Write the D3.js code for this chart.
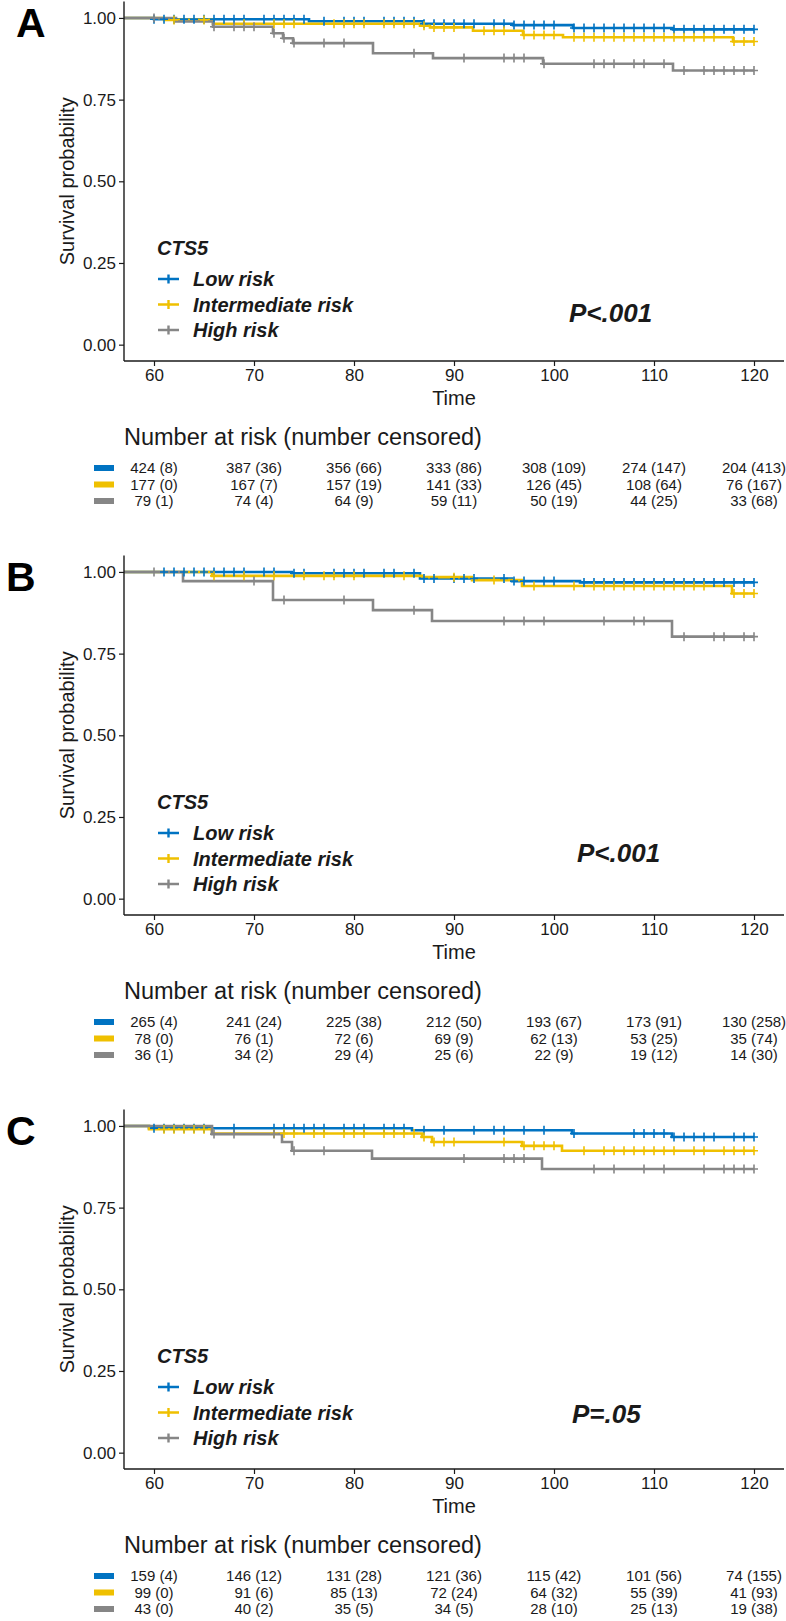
<!DOCTYPE html>
<html><head><meta charset="utf-8">
<script src="https://cdn.jsdelivr.net/npm/d3@7"></script>
<style>body{margin:0;background:#fff;} svg{display:block;} text{font-family:"Liberation Sans",Arial,sans-serif;}</style>
</head><body><svg id="chart" width="786" height="1621"></svg>
<script>
// ---------- DATA ----------
const groups = ["Low risk", "Intermediate risk", "High risk"];
const colors = ["#0073C2", "#EFC000", "#868686"];
const timeTicks = [60, 70, 80, 90, 100, 110, 120];
const survTicks = [0, 0.25, 0.5, 0.75, 1];
const panelLabels = ["A", "B", "C"];
const pTexts = ["P<.001", "P<.001", "P=.05"];
const pTime = [101.5, 102.3, 101.8];
const pSurv = [0.097, 0.14, 0.121];

// step functions: [time, survival from that time]
const A_low_steps = [[57,1],[60,0.996],[75.5,0.99],[86.9,0.982],[95.9,0.978],[101.9,0.969],[111.9,0.965]];
const A_int_steps = [[57,1],[61,0.994],[65.9,0.982],[86.6,0.976],[87.6,0.971],[91.9,0.961],[96.9,0.948],[100.9,0.941],[117.9,0.928]];
const A_high_steps = [[57,1],[62.2,0.989],[65.9,0.973],[71.9,0.953],[72.9,0.938],[73.9,0.923],[81.9,0.892],[87.9,0.877],[98.9,0.860],[111.9,0.839]];
const A_low_cens = [60,61,62,63,64,65,66,67,68,69,71,72,73,74,75,77,79,80,81,83,84,85,86,87,88,89,90,91,92,94,95,96,97,98,99,100,102,103,104,105,106,107,108,109,110,111,112,113,114,115,116,117,118,119,120];
const A_int_cens = [62,65,69,72,73,74,78,79,80,81,83,84,85,86,87,88,89,90,93,94,95,97,98,99,100,102,103,104,105,106,107,108,109,110,111,112,113,114,115,116,118,119,120];
const A_high_cens = [60,66,68,69,70,72,73,74,77,79,86,91,95,96,97,99,104,105,106,108,109,111,113,115,116,117,118,119,120];

const B_low_steps = [[57,1],[73.8,0.996],[86.6,0.980],[95.8,0.972],[102.6,0.968]];
const B_int_steps = [[57,1],[65.8,0.988],[86.8,0.984],[91.8,0.975],[96.8,0.957],[117.8,0.934]];
const B_high_steps = [[57,1],[62.9,0.972],[71.9,0.914],[81.9,0.883],[87.8,0.850],[111.8,0.802]];
const B_low_cens = [61,62,63,64,65,66,67,68,69,71,72,74,75,78,79,80,81,83,84,86,87,88,90,91,92,95,96,97,99,100,103,104,105,106,107,108,109,110,111,112,113,114,115,116,117,118,119,120];
const B_int_cens = [66,69,72,75,77,78,80,85,90,94,98,102,104,105,106,107,108,109,110,111,112,113,114,115,118,119,120];
const B_high_cens = [60,70,73,79,86,95,97,99,105,108,109,113,116,117,119,120];

const C_low_steps = [[57,1],[59.5,0.993],[85.8,0.987],[101.8,0.977],[111.8,0.966]];
const C_int_steps = [[57,1],[59.5,0.99],[65.8,0.977],[86.8,0.966],[87.8,0.951],[96.8,0.939],[100.8,0.924]];
const C_high_steps = [[57,1],[65.8,0.975],[72.8,0.951],[73.8,0.924],[81.8,0.90],[98.8,0.868]];
const C_low_cens = [60,61,62,63,64,65,68,72,73,74,75,76,77,79,80,81,83,84,85,87,89,92,94,95,97,99,102,108,109,110,111,112,113,114,115,116,118,119,120];
const C_int_cens = [61,62,63,64,65,72,73,74,76,77,79,80,81,83,84,85,86,87,88,89,90,95,97,98,99,100,103,105,106,107,108,109,110,111,112,114,115,117,118,119,120];
const C_high_cens = [66,68,72,74,77,91,95,96,97,104,106,109,111,115,117,118,119,120];

// number at risk / number censored at timeTicks
const A_low_risk = [424,387,356,333,308,274,204], A_low_nc = [8,36,66,86,109,147,413];
const A_int_risk = [177,167,157,141,126,108,76], A_int_nc = [0,7,19,33,45,64,167];
const A_high_risk = [79,74,64,59,50,44,33], A_high_nc = [1,4,9,11,19,25,68];
const B_low_risk = [265,241,225,212,193,173,130], B_low_nc = [4,24,38,50,67,91,258];
const B_int_risk = [78,76,72,69,62,53,35], B_int_nc = [0,1,6,9,13,25,74];
const B_high_risk = [36,34,29,25,22,19,14], B_high_nc = [1,2,4,6,9,12,30];
const C_low_risk = [159,146,131,121,115,101,74], C_low_nc = [4,12,28,36,42,56,155];
const C_int_risk = [99,91,85,72,64,55,41], C_int_nc = [0,6,13,24,32,39,93];
const C_high_risk = [43,40,35,34,28,25,19], C_high_nc = [0,2,5,5,10,13,38];

const panels = [
  {steps:[A_low_steps,A_int_steps,A_high_steps], cens:[A_low_cens,A_int_cens,A_high_cens], risk:[A_low_risk,A_int_risk,A_high_risk], nc:[A_low_nc,A_int_nc,A_high_nc]},
  {steps:[B_low_steps,B_int_steps,B_high_steps], cens:[B_low_cens,B_int_cens,B_high_cens], risk:[B_low_risk,B_int_risk,B_high_risk], nc:[B_low_nc,B_int_nc,B_high_nc]},
  {steps:[C_low_steps,C_int_steps,C_high_steps], cens:[C_low_cens,C_int_cens,C_high_cens], risk:[C_low_risk,C_int_risk,C_high_risk], nc:[C_low_nc,C_int_nc,C_high_nc]}
];

// ---------- LAYOUT ----------
const W = 786, H = 1621, PANEL_H = 554;
const svg = d3.select("#chart");
svg.append("rect").attr("width", W).attr("height", H).attr("fill", "#fff");

const x = d3.scaleLinear().domain([57, 123]).range([124, 784]);
const y = d3.scaleLinear().domain([-0.05, 1.05]).range([361, 1.6]);
const tMax = 120;
const ink = "#1a1a1a";

function survAt(steps, t) {
  let s = steps[0][1];
  for (const st of steps) { if (st[0] <= t) s = st[1]; }
  return s;
}

const line = d3.line().x(d => x(d[0])).y(d => y(d[1])).curve(d3.curveStepAfter);

panels.forEach((p, i) => {
  const g = svg.append("g").attr("transform", `translate(0,${i * PANEL_H})`);

  // panel letter
  g.append("text").attr("x", i === 0 ? 16 : 6).attr("y", 37)
    .attr("font-size", 41).attr("font-weight", "bold").attr("fill", "#000").text(panelLabels[i]);

  // clip
  const cid = "clip" + i;
  g.append("clipPath").attr("id", cid).append("rect")
    .attr("x", x(57)).attr("y", y(1.05) - 4).attr("width", x(123) - x(57)).attr("height", y(-0.05) - y(1.05) + 4);

  const plot = g.append("g").attr("clip-path", `url(#${cid})`);
  p.steps.forEach((st, k) => {
    const pts = st.concat([[tMax, st[st.length - 1][1]]]);
    plot.append("path").attr("d", line(pts)).attr("fill", "none")
      .attr("stroke", colors[k]).attr("stroke-width", 2.6);
  });
  p.cens.forEach((cs, k) => {
    plot.selectAll(null).data(cs).enter().append("path")
      .attr("d", t => {
        const cx = x(t), cy = y(survAt(p.steps[k], t));
        return `M${cx - 4},${cy}H${cx + 4}M${cx},${cy - 4.5}V${cy + 4.5}`;
      })
      .attr("stroke", colors[k]).attr("stroke-width", 1.6).attr("fill", "none");
  });

  // axes
  const yAxis = d3.axisLeft(y).tickValues(survTicks).tickFormat(d3.format(".2f")).tickSize(5).tickPadding(3);
  const xAxis = d3.axisBottom(x).tickValues(timeTicks).tickSize(5).tickPadding(3);
  const ya = g.append("g").attr("transform", `translate(${x(57)},0)`).call(yAxis);
  const xa = g.append("g").attr("transform", `translate(0,${y(-0.05)})`).call(xAxis);
  [ya, xa].forEach(a => {
    a.select(".domain").attr("stroke", ink).attr("stroke-width", 1.4);
    a.selectAll(".tick line").attr("stroke", ink).attr("stroke-width", 1.2);
    a.selectAll(".tick text").attr("font-size", 17).attr("fill", ink).attr("font-family", "Liberation Sans, Arial, sans-serif");
  });
  ya.select(".domain").attr("d", `M0,${y(1.05)}V${y(-0.05)}`);
  xa.select(".domain").attr("d", `M${x(57)},0H${x(123)}`);

  // axis titles
  g.append("text").attr("transform", `translate(74,${(y(1.05) + y(-0.05)) / 2}) rotate(-90)`)
    .attr("text-anchor", "middle").attr("font-size", 20).attr("fill", ink).text("Survival probability");
  g.append("text").attr("x", (x(57) + x(123)) / 2).attr("y", 405)
    .attr("text-anchor", "middle").attr("font-size", 20).attr("fill", ink).text("Time");

  // legend
  g.append("text").attr("x", 157).attr("y", 255).attr("font-size", 20)
    .attr("font-weight", "bold").attr("font-style", "italic").attr("fill", ink).text("CTS5");
  groups.forEach((name, k) => {
    const cy = 279 + k * 25.5;
    g.append("path").attr("d", `M158,${cy}H179M168.5,${cy - 4.5}V${cy + 4.5}`)
      .attr("stroke", colors[k]).attr("stroke-width", 2.4).attr("fill", "none");
    g.append("text").attr("x", 193).attr("y", cy + 7).attr("font-size", 20)
      .attr("font-weight", "bold").attr("font-style", "italic").attr("fill", ink).text(name);
  });

  // p value
  g.append("text").attr("x", x(pTime[i])).attr("y", y(pSurv[i]) + 9.5).attr("font-size", 26)
    .attr("font-weight", "bold").attr("font-style", "italic").attr("fill", ink).text(pTexts[i]);

  // risk table
  g.append("text").attr("x", 124).attr("y", 445).attr("font-size", 23.5).attr("fill", ink)
    .text("Number at risk (number censored)");
  p.risk.forEach((r, k) => {
    const cy = 468 + k * 16.5;
    g.append("rect").attr("x", 94).attr("y", cy - 3).attr("width", 20).attr("height", 6).attr("fill", colors[k]);
    g.selectAll(null).data(r).enter().append("text")
      .attr("x", (d, j) => x(timeTicks[j])).attr("y", cy + 5.4)
      .attr("text-anchor", "middle").attr("font-size", 15).attr("fill", ink)
      .text((d, j) => `${d} (${p.nc[k][j]})`);
  });
});
</script></body></html>
